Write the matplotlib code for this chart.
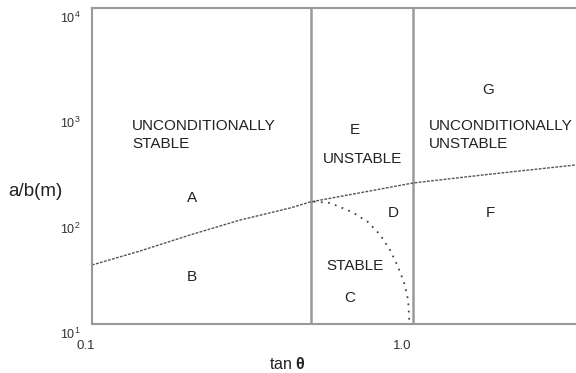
import matplotlib
matplotlib.use('Agg')
import matplotlib.pyplot as plt
from matplotlib.transforms import ScaledTranslation

plt.rcParams['font.family'] = ['Liberation Sans', 'DejaVu Sans']
plt.rcParams['mathtext.fontset'] = 'custom'
plt.rcParams['mathtext.rm'] = 'Liberation Sans'
plt.rcParams['mathtext.bf'] = 'Liberation Sans:bold'

# upper boundary (dashed) : tan(theta) vs a/b
upper_x = [0.1, 0.1417, 0.2038, 0.293, 0.4213, 0.4874, 1.029, 1.712, 3.339]
upper_y = [36.3, 49.3, 70.0, 97.0, 126.2, 143.9, 218, 260, 323]

# lower boundary of region D (dotted)
lower_x = [0.5, 0.563, 0.661, 0.742, 0.811, 0.871, 0.923, 0.965, 0.993, 1.0, 1.003]
lower_y = [145, 141, 115.6, 92.9, 70.0, 50.4, 34.8, 24.5, 16.9, 11.6, 10]

# vertical boundaries
vlines_x = [0.49, 1.03]

xticks = [0.1, 1.0]
xtick_labels = ['0.1', '1.0']
yticks = [10, 100, 1000, 10000]
ytick_labels = [r'$\mathregular{10^{1}}$', r'$\mathregular{10^{2}}$',
                r'$\mathregular{10^{3}}$', r'$\mathregular{10^{4}}$']

# region labels (x, y, text)
labels = [
    (0.2068, 157, 'A'),
    (0.2068, 27.9, 'B'),
    (0.651, 17.6, 'C'),
    (0.89, 113, 'D'),
    (0.6755, 695, 'E'),
    (1.80, 113, 'F'),
    (1.775, 1665, 'G'),
    (0.7107, 368, 'UNSTABLE'),
    (0.6755, 35.5, 'STABLE'),
]
multi_labels = [
    (0.1337, 623, 'UNCONDITIONALLY\nSTABLE'),
    (1.1565, 623, 'UNCONDITIONALLY\nUNSTABLE'),
]

fig = plt.figure(figsize=(5.76, 3.73), dpi=100)
ax = fig.add_axes([0.1597, 0.1314, 0.8403, 0.8472])
ax.set_xscale('log')
ax.set_yscale('log')
ax.set_xlim(0.1, 3.36)
ax.set_ylim(10, 10000)

for xv in vlines_x:
    ax.axvline(xv, color='#9a9a9a', lw=1.8)

ax.plot(upper_x, upper_y, color='#555555', lw=1.0, linestyle=(0, (2, 1)))
ax.plot(lower_x, lower_y, color='#444444', lw=1.3, linestyle=(0, (1, 3)))

for x, y, t in labels:
    ax.text(x, y, t, ha='center', va='center', fontsize=11, color='#222222')
for x, y, t in multi_labels:
    ax.text(x, y, t, ha='left', va='center', fontsize=11, color='#222222',
            linespacing=1.3)

for s in ['left', 'top', 'bottom']:
    ax.spines[s].set_color('#999999')
    ax.spines[s].set_linewidth(1.5)
ax.spines['right'].set_visible(False)

ax.set_xticks(xticks)
ax.set_xticklabels(xtick_labels)
ax.set_yticks(yticks)
ax.set_yticklabels(ytick_labels)
ax.minorticks_off()
ax.tick_params(axis='x', length=0, pad=11.5, labelsize=9.5, colors='#333333')
ax.tick_params(axis='y', length=0, pad=8.5, labelsize=9, colors='#333333')

for lab in ax.get_xticklabels():
    lab.set_transform(lab.get_transform() + ScaledTranslation(-0.065, 0, fig.dpi_scale_trans))
for lab in ax.get_yticklabels():
    lab.set_transform(lab.get_transform() + ScaledTranslation(0, -0.09, fig.dpi_scale_trans))

ax.set_xlabel(r'tan $\mathbf{\theta}$', fontsize=11.5, color='#222222')
ax.xaxis.set_label_coords(0.404, -0.1)
fig.text(35 / 576, 1 - 192 / 373, 'a/b(m)', ha='center', va='center',
         fontsize=13.5, color='#222222')

fig.savefig('out.png', dpi=100)
